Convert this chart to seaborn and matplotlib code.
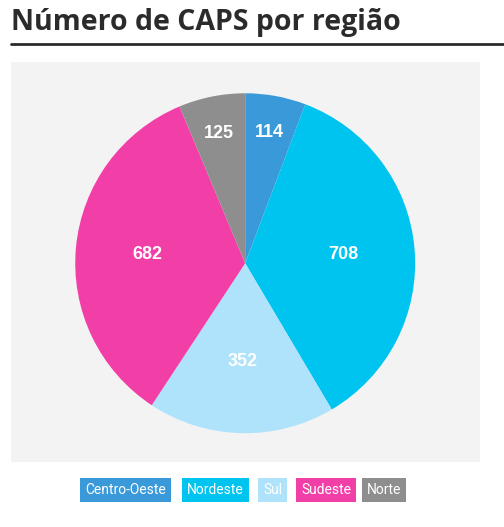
import matplotlib
matplotlib.use("Agg")
import matplotlib.pyplot as plt
import numpy as np
import seaborn as sns

regions = ["Centro-Oeste", "Nordeste", "Sul", "Sudeste", "Norte"]
values = [114, 708, 352, 682, 125]
colors = ["#3a9ad9", "#00c4f0", "#aee3fb", "#f23fa8", "#8e8e8e"]

sns.set_theme(style="white")
plt.rcParams['font.family'] = ['Open Sans', 'DejaVu Sans']

fig = plt.figure(figsize=(5.04, 5.27), dpi=100)
bg = fig.add_axes([0.022, 0.123, 0.931, 0.759])
bg.set_facecolor("#f3f3f3")
bg.set_xticks([]); bg.set_yticks([])
for s in bg.spines.values():
    s.set_visible(False)

ax = fig.add_axes([0.149, 0.178, 0.675, 0.645])
pal = sns.color_palette(colors)
wedges, texts = ax.pie(values, colors=pal, startangle=90, counterclock=False,
                       labels=[str(v) for v in values], labeldistance=0.6,
                       wedgeprops=dict(linewidth=0))
total = sum(values)
for w, t, v in zip(wedges, texts, values):
    t.set_color("white"); t.set_fontweight("bold"); t.set_fontsize(13)
    t.set_family(['Liberation Sans', 'DejaVu Sans'])
    t.set_ha("center"); t.set_va("center")
    d = 0.78 if v / total < 0.1 else 0.58
    ang = np.deg2rad((w.theta1 + w.theta2) / 2)
    t.set_position((d * np.cos(ang), d * np.sin(ang)))
ax.set_xlim(-1, 1); ax.set_ylim(-1, 1)
ax.set_aspect("equal")

fig.text(0.022, 0.958, "Número de CAPS por região", fontsize=20.5, fontweight="bold",
         color="#2b2b2b", ha="left", va="center")
fig.add_artist(plt.Line2D([0.022, 1.0], [0.916, 0.916], color="#2b2b2b", lw=2,
                          transform=fig.transFigure))

xs = [79, 181, 257, 295, 361]
for x, lab, c in zip(xs, regions, colors):
    fig.text((x + 6) / 504, 1 - 490 / 527, lab, fontsize=10, color="white",
             family=['Roboto', 'DejaVu Sans'], ha="left", va="center",
             bbox=dict(boxstyle="square,pad=0.35", fc=c, ec="none"))

fig.savefig("out.png", dpi=100)
